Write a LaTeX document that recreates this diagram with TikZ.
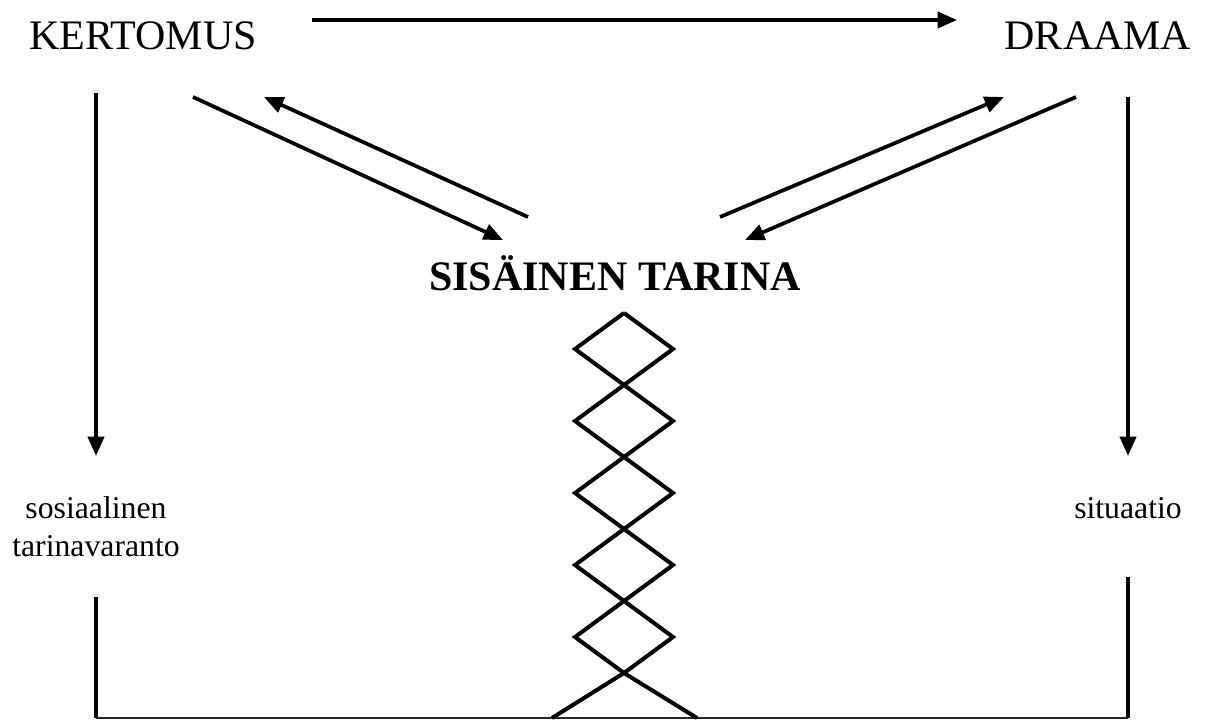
\documentclass[tikz,border=0pt]{standalone}
\usepackage{fontspec}
\setmainfont{Liberation Serif}
\usetikzlibrary{arrows.meta}
\tikzset{
  big/.style={font=\fontsize{31.5}{36}\selectfont, inner sep=0pt, anchor=base},
  bigbold/.style={font=\fontsize{31.5}{36}\selectfont\bfseries, inner sep=0pt, anchor=base},
  small/.style={font=\fontsize{23.8}{28.5}\selectfont, inner sep=0pt, align=center, anchor=base},
  conn/.style={line width=2.8pt, -{Triangle[length=14.5pt,width=12pt]}},
  plain/.style={line width=2.9pt},
  zig/.style={line width=3pt, line join=miter},
  baseline/.style={line width=1.3pt, draw=black!85}
}
\begin{document}
\begin{tikzpicture}[x=0.75pt,y=-0.75pt]
\useasboundingbox (0,0) rectangle (1209,720);
% texts
\node[big] (kert) at (143,50) {KERTOMUS};
\node[big] (draa) at (1098,50) {DRAAMA};
\node[bigbold] (sis) at (615,290) {SIS\"AINEN TARINA};
\node[small] (sos) at (96,556) {sosiaalinen\\tarinavaranto};
\node[small] (sit) at (1128,518) {situaatio};
% coordinates
\coordinate (ta) at (312,20);  \coordinate (tb) at (957,20);
\coordinate (la) at (96,93);   \coordinate (lb) at (96,456);
\coordinate (lc) at (96,597);  \coordinate (ld) at (96,718);
\coordinate (ra) at (1128,97); \coordinate (rb) at (1128,456);
\coordinate (rc) at (1128,577);\coordinate (rd) at (1128,718);
\coordinate (d1a) at (193,97); \coordinate (d1b) at (503,240);
\coordinate (d2a) at (528,217);\coordinate (d2b) at (264,97);
\coordinate (d3a) at (720,217);\coordinate (d3b) at (1004,97);
\coordinate (d4a) at (1076,97);\coordinate (d4b) at (745,240);
% connectors
\draw[conn] (ta) -- (tb);
\draw[conn] (la) -- (lb);
\draw[plain] (lc) -- (ld);
\draw[conn] (ra) -- (rb);
\draw[plain] (rc) -- (rd);
\draw[baseline] (ld) -- (rd);
\draw[conn] (d1a) -- (d1b);
\draw[conn] (d2a) -- (d2b);
\draw[conn] (d3a) -- (d3b);
\draw[conn] (d4a) -- (d4b);
% zigzag chain
\coordinate (zt) at (624,313);
\draw[zig] (zt) -- (575,349) -- (624,385) -- (673,421) -- (624,457) -- (575,493)
  -- (624,529) -- (673,565) -- (624,601) -- (575,637) -- (624,673) -- (697,718);
\draw[zig] (zt) -- (673,349) -- (624,385) -- (575,421) -- (624,457) -- (673,493)
  -- (624,529) -- (575,565) -- (624,601) -- (673,637) -- (624,673) -- (552,718);
\end{tikzpicture}
\end{document}
